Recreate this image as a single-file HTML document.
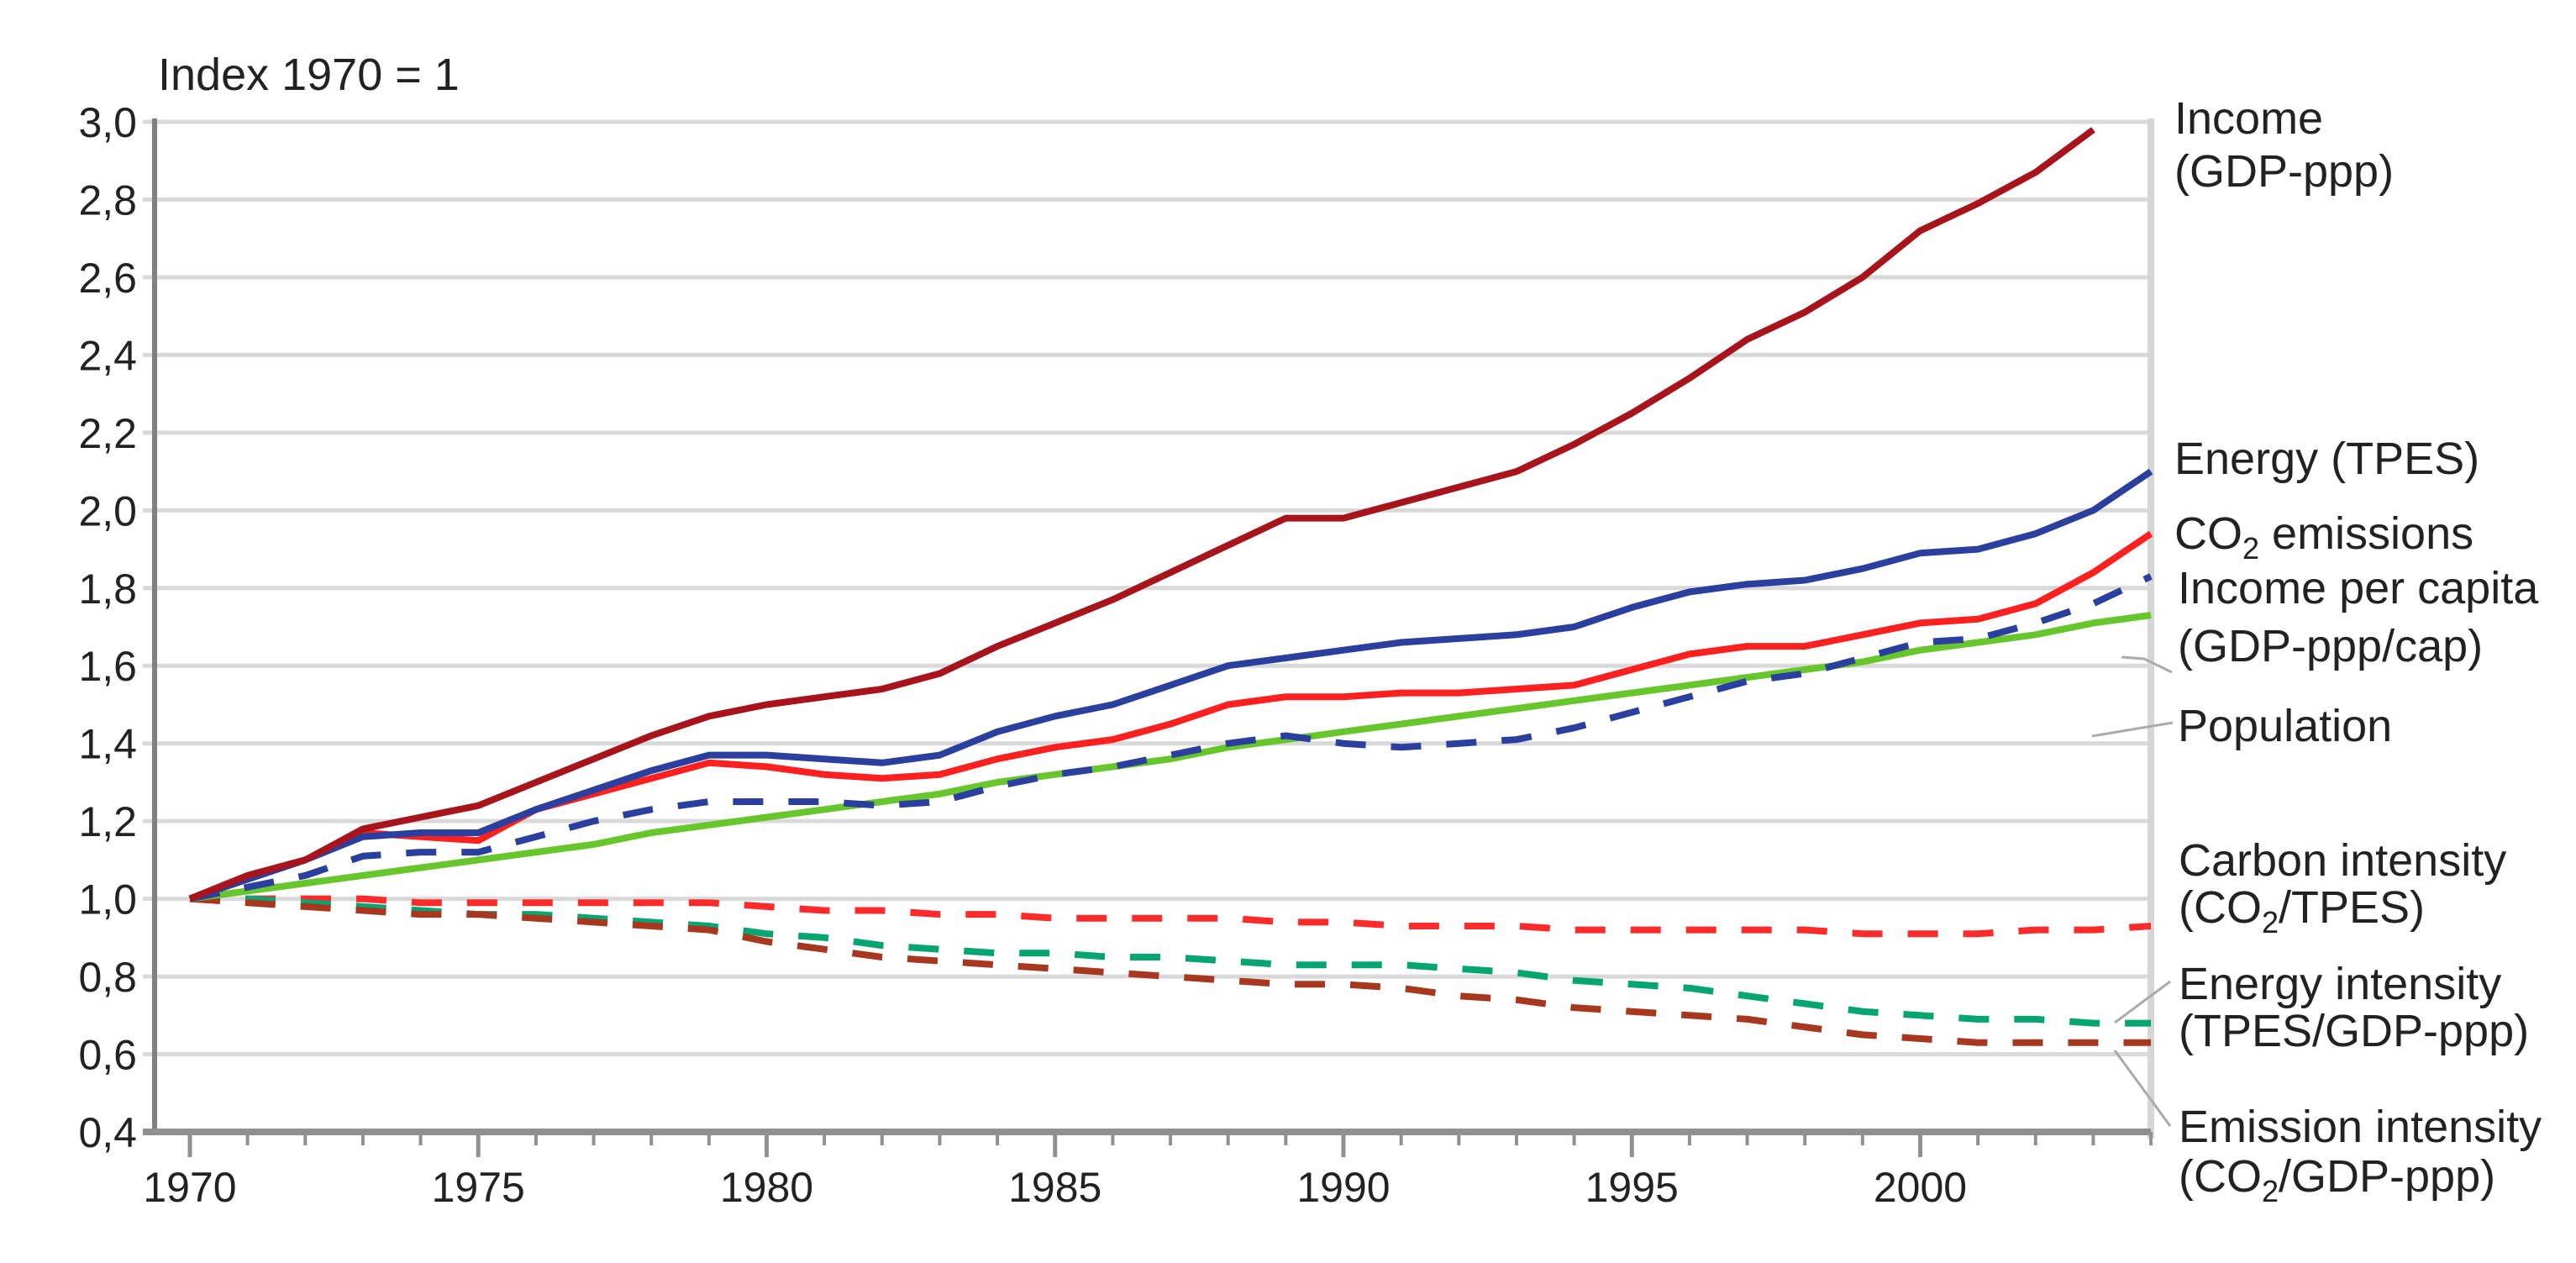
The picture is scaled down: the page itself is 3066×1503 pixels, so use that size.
<!DOCTYPE html>
<html><head><meta charset="utf-8"><style>
html,body{margin:0;padding:0;background:#fff;}
svg{display:block;font-family:"Liberation Sans",Arial,sans-serif;}
</style></head><body>
<svg id="chart" width="3066" height="1503" viewBox="0 0 3066 1503">
<g id="grid"></g>
<g id="yticks"></g>
<g id="xticks"></g>
<g id="series"></g>
<text x="188" y="107" font-size="54" fill="#222">Index 1970 = 1</text>
<g font-size="54" fill="#222">
<text x="2588" y="159">Income</text>
<text x="2588" y="222">(GDP-ppp)</text>
<text x="2588" y="564">Energy (TPES)</text>
<text x="2588" y="653">CO<tspan font-size="36" dy="12">2</tspan><tspan dy="-12"> emissions</tspan></text>
<text x="2592" y="718">Income per capita</text>
<text x="2592" y="787">(GDP-ppp/cap)</text>
<text x="2592" y="882">Population</text>
<text x="2593" y="1042">Carbon intensity</text>
<text x="2593" y="1098">(CO<tspan font-size="36" dy="12">2</tspan><tspan dy="-12">/TPES)</tspan></text>
<text x="2593" y="1189">Energy intensity</text>
<text x="2593" y="1245">(TPES/GDP-ppp)</text>
<text x="2593" y="1359">Emission intensity</text>
<text x="2593" y="1418">(CO<tspan font-size="36" dy="12">2</tspan><tspan dy="-12">/GDP-ppp)</tspan></text>
</g>
<g stroke="#aaa" stroke-width="3" fill="none">
<polyline points="2525,782 2552,784 2585,800"/>
<polyline points="2490,876 2586,860"/>
<polyline points="2517,1217 2583,1168"/>
<polyline points="2517,1250 2583,1340"/>
</g>
</svg>
<script>
const years=[1970,1971,1972,1973,1974,1975,1976,1977,1978,1979,1980,1981,1982,1983,1984,1985,1986,1987,1988,1989,1990,1991,1992,1993,1994,1995,1996,1997,1998,1999,2000,2001,2002,2003,2004];
const income=[1.0,1.06,1.1,1.18,1.21,1.24,1.3,1.36,1.42,1.47,1.5,1.52,1.54,1.58,1.65,1.71,1.77,1.84,1.91,1.98,1.98,2.02,2.06,2.1,2.17,2.25,2.34,2.44,2.51,2.6,2.72,2.79,2.87,2.98];
const energy=[1.0,1.05,1.1,1.16,1.17,1.17,1.23,1.28,1.33,1.37,1.37,1.36,1.35,1.37,1.43,1.47,1.5,1.55,1.6,1.62,1.64,1.66,1.67,1.68,1.7,1.75,1.79,1.81,1.82,1.85,1.89,1.9,1.94,2.0,2.1];
const co2=[1.0,1.06,1.1,1.17,1.16,1.15,1.23,1.27,1.31,1.35,1.34,1.32,1.31,1.32,1.36,1.39,1.41,1.45,1.5,1.52,1.52,1.53,1.53,1.54,1.55,1.59,1.63,1.65,1.65,1.68,1.71,1.72,1.76,1.84,1.94];
const incomePerCapita=[1.0,1.03,1.06,1.11,1.12,1.12,1.16,1.2,1.23,1.25,1.25,1.25,1.24,1.25,1.29,1.32,1.34,1.37,1.4,1.42,1.4,1.39,1.4,1.41,1.44,1.48,1.52,1.56,1.58,1.62,1.66,1.67,1.71,1.76,1.83];
const population=[1.0,1.02,1.04,1.06,1.08,1.1,1.12,1.14,1.17,1.19,1.21,1.23,1.25,1.27,1.3,1.32,1.34,1.36,1.39,1.41,1.43,1.45,1.47,1.49,1.51,1.53,1.55,1.57,1.59,1.61,1.64,1.66,1.68,1.71,1.73];
const carbonIntensity=[1.0,1.0,1.0,1.0,0.99,0.99,0.99,0.99,0.99,0.99,0.98,0.97,0.97,0.96,0.96,0.95,0.95,0.95,0.95,0.94,0.94,0.93,0.93,0.93,0.92,0.92,0.92,0.92,0.92,0.91,0.91,0.91,0.92,0.92,0.93];
const energyIntensity=[1.0,1.0,0.99,0.98,0.97,0.96,0.96,0.95,0.94,0.93,0.91,0.9,0.88,0.87,0.86,0.86,0.85,0.85,0.84,0.83,0.83,0.83,0.82,0.81,0.79,0.78,0.77,0.75,0.73,0.71,0.7,0.69,0.69,0.68,0.68];
const emissionIntensity=[1.0,0.99,0.98,0.97,0.96,0.96,0.95,0.94,0.93,0.92,0.89,0.87,0.85,0.84,0.83,0.82,0.81,0.8,0.79,0.78,0.78,0.77,0.75,0.74,0.72,0.71,0.7,0.69,0.67,0.65,0.64,0.63,0.63,0.63,0.63];
const yTicks=[0.4,0.6,0.8,1.0,1.2,1.4,1.6,1.8,2.0,2.2,2.4,2.6,2.8,3.0];
const yTickLabels=["0,4","0,6","0,8","1,0","1,2","1,4","1,6","1,8","2,0","2,2","2,4","2,6","2,8","3,0"];
const xTickLabels=[1970,1975,1980,1985,1990,1995,2000];

const NS="http://www.w3.org/2000/svg";
const X0=226,XSTEP=68.65,AXL=184,AXR=2560,Y04=1347,YSTEP=92.46;
function sx(yr){return X0+(yr-1970)*XSTEP;}
function sy(v){return Y04-(v-0.4)/0.2*YSTEP;}
function mk(tag,attrs,parent){const e=document.createElementNS(NS,tag);for(const k in attrs)e.setAttribute(k,attrs[k]);parent.appendChild(e);return e;}

const grid=document.getElementById('grid');
const yt=document.getElementById('yticks');
yTicks.forEach((v,i)=>{
  if(i>0){const l=mk('line',{x1:AXL-14,x2:AXR,y1:sy(v),y2:sy(v),stroke:'#d9d9d9','stroke-width':5},grid);
  
  }
  const t=mk('text',{x:163,y:sy(v)+18,'text-anchor':'end','font-size':50,fill:'#222'},yt);
  t.textContent=yTickLabels[i];
  
  
});
const ra=mk('line',{x1:AXR,x2:AXR,y1:sy(3.0)-4,y2:Y04+8,stroke:'#d6d6d6','stroke-width':8},grid);


const ya=mk('line',{x1:AXL,x2:AXL,y1:sy(3.0)-4,y2:Y04+3,stroke:'#808080','stroke-width':6},grid);


const xa=mk('line',{x1:AXL-14,x2:AXR,y1:Y04,y2:Y04,stroke:'#909090','stroke-width':8},grid);



const xt=document.getElementById('xticks');
years.forEach(yr=>{
  const major=(yr%5===0);
  const l=mk('line',{x1:sx(yr),x2:sx(yr),y1:Y04,y2:Y04+(major?30:16),stroke:'#909090','stroke-width':major?5:4},xt);
  
  
});
xTickLabels.forEach(yr=>{
  const t=mk('text',{x:sx(yr),y:1430,'text-anchor':'middle','font-size':50,fill:'#222'},xt);
  t.textContent=String(yr);
  
  
});

const ser=document.getElementById('series');
function line(vals,color,dash,name){
  const pts=vals.map((v,i)=>sx(years[i]).toFixed(1)+','+sy(v).toFixed(1)).join(' ');
  const a={points:pts,fill:'none',stroke:color,'stroke-width':8,'stroke-linejoin':'round'};
  if(dash)a['stroke-dasharray']='36 30';
  const p=mk('polyline',a,ser);
  
  
}
line(carbonIntensity,'#ff2a2a',true,'carbon-intensity-line');
line(energyIntensity,'#05a572',true,'energy-intensity-line');
line(emissionIntensity,'#a8371f',true,'emission-intensity-line');
line(population,'#66c62c',false,'population-line');
line(incomePerCapita,'#2a3f9e',true,'income-per-capita-line');
line(co2,'#ff2020',false,'co2-emissions-line');
line(energy,'#2a3f9e',false,'energy-line');
line(income,'#a8141c',false,'income-line');
</script>
</body></html>
